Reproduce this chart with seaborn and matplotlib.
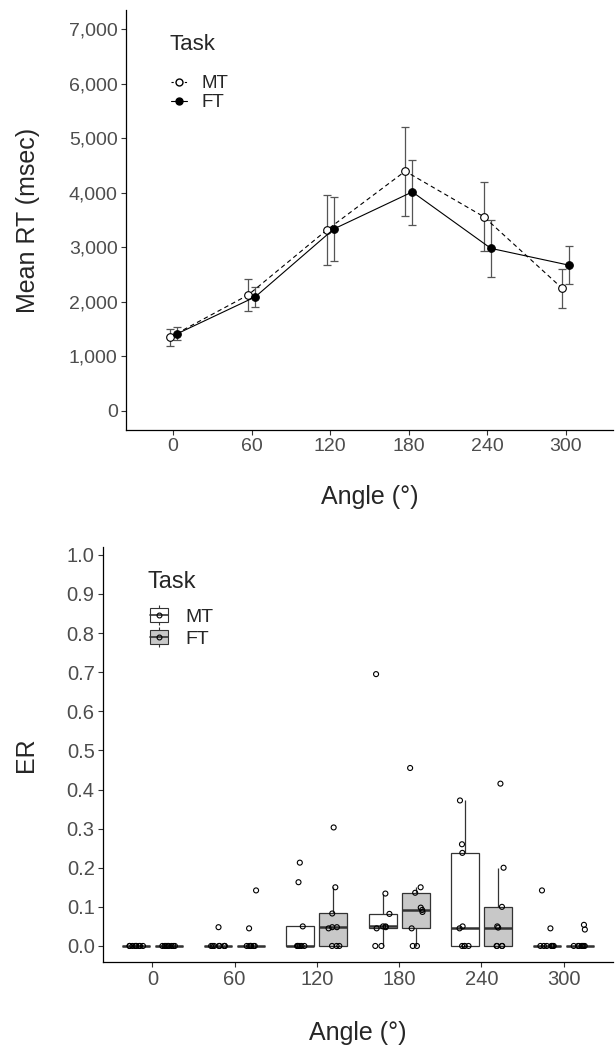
import numpy as np
import pandas as pd
import matplotlib
matplotlib.use('Agg')
import matplotlib.pyplot as plt
import seaborn as sns
from matplotlib.patches import Patch
from matplotlib.lines import Line2D
from matplotlib.legend_handler import HandlerTuple
from matplotlib.ticker import StrMethodFormatter

angles = ['0', '60', '120', '180', '240', '300']
tasks = ['MT', 'FT']

# mean RT (msec) with interval bounds, per angle
rt_mt = [1350, 2125, 3315, 4395, 3560, 2245]
rt_mt_lo = [1185, 1825, 2670, 3580, 2930, 1880]
rt_mt_hi = [1505, 2425, 3960, 5210, 4205, 2600]
rt_ft = [1410, 2090, 3335, 4015, 2980, 2670]
rt_ft_lo = [1295, 1900, 2745, 3405, 2450, 2330]
rt_ft_hi = [1540, 2280, 3915, 4595, 3505, 3015]

# error rate per participant, one list per angle
er_mt = [
    [0, 0, 0, 0, 0, 0, 0, 0, 0],
    [0, 0, 0, 0, 0, 0, 0, 0, 0.048],
    [0, 0, 0, 0, 0, 0, 0.05, 0.163, 0.213],
    [0, 0, 0.045, 0.048, 0.05, 0.05, 0.082, 0.134, 0.695],
    [0, 0, 0, 0, 0.045, 0.05, 0.238, 0.26, 0.372],
    [0, 0, 0, 0, 0, 0, 0, 0.045, 0.142],
]
er_ft = [
    [0, 0, 0, 0, 0, 0, 0, 0, 0],
    [0, 0, 0, 0, 0, 0, 0, 0.045, 0.142],
    [0, 0, 0, 0.045, 0.048, 0.048, 0.083, 0.15, 0.303],
    [0, 0, 0.045, 0.087, 0.092, 0.098, 0.136, 0.15, 0.455],
    [0, 0, 0, 0, 0.047, 0.05, 0.1, 0.2, 0.415],
    [0, 0, 0, 0, 0, 0, 0, 0.042, 0.054],
]

rows = []
for task, groups in zip(tasks, [er_mt, er_ft]):
    for ang, vals in zip(angles, groups):
        for v in vals:
            rows.append({'Angle': ang, 'Task': task, 'ER': v})
er_df = pd.DataFrame(rows)

sns.set_style('ticks')
plt.rcParams['font.family'] = ['Liberation Sans', 'DejaVu Sans']
np.random.seed(7)

W, H = 615, 1046
fig = plt.figure(figsize=(W / 100, H / 100), dpi=100)

tick_grey = '#4d4d4d'
line_grey = '#333333'


def style_axes(ax, fs):
    sns.despine(ax=ax)
    for s in ['left', 'bottom']:
        ax.spines[s].set_color('black')
        ax.spines[s].set_linewidth(0.9)
    ax.tick_params(axis='both', length=3.5, width=0.8, color=line_grey,
                   labelcolor=tick_grey, labelsize=fs, pad=2.5)


# ---------- top panel: mean RT ----------
ax1 = fig.add_axes([126 / W, 1 - 430 / H, 487 / W, 420 / H])
pos = np.arange(len(angles))
off = 0.045
mt = np.array(rt_mt); ft = np.array(rt_ft)
ax1.errorbar(pos - off, mt, yerr=[mt - np.array(rt_mt_lo), np.array(rt_mt_hi) - mt],
             fmt='none', ecolor='#555555', elinewidth=0.9, capsize=3, capthick=0.9, zorder=1)
ax1.errorbar(pos + off, ft, yerr=[ft - np.array(rt_ft_lo), np.array(rt_ft_hi) - ft],
             fmt='none', ecolor='#555555', elinewidth=0.9, capsize=3, capthick=0.9, zorder=1)
sns.lineplot(x=pos - off, y=mt, ax=ax1, color='black', linestyle=(0, (4, 3)), linewidth=0.8,
             marker='o', markersize=5.5, markerfacecolor='white', markeredgecolor='black',
             markeredgewidth=0.8, zorder=2)
sns.lineplot(x=pos + off, y=ft, ax=ax1, color='black', linewidth=0.8,
             marker='o', markersize=5.5, markerfacecolor='black', markeredgecolor='black',
             zorder=3)
ax1.set_xlim(-0.6, 5.6)
ax1.set_ylim(-350, 7350)
ax1.set_xticks(pos)
ax1.set_xticklabels(angles)
ax1.set_yticks(range(0, 7001, 1000))
ax1.yaxis.set_major_formatter(StrMethodFormatter('{x:,.0f}'))
style_axes(ax1, 14)
ax1.set_xlabel('Angle (°)', fontsize=18)
ax1.set_ylabel('Mean RT (msec)', fontsize=18)
ax1.xaxis.set_label_coords(0.5, -0.13)
ax1.yaxis.set_label_coords(-0.176, 0.5)

fig.text(169 / W, 1 - 45 / H, 'Task', fontsize=16, va='center', ha='left')
h_mt = Line2D([], [], color='black', linestyle=(0, (2, 2)), linewidth=0.8, marker='o',
              markersize=5, markerfacecolor='white', markeredgecolor='black')
h_ft = Line2D([], [], color='black', linewidth=0.8, marker='o', markersize=5,
              markerfacecolor='black', markeredgecolor='black')
fig.legend([h_mt, h_ft], tasks, loc='upper left', bbox_to_anchor=(171 / W, 1 - 75 / H),
           frameon=False, fontsize=13.5, borderpad=0, borderaxespad=0, labelspacing=0.1,
           handlelength=0.85, handletextpad=0.75)

# ---------- bottom panel: ER ----------
ax2 = fig.add_axes([103 / W, 1 - 962 / H, 510 / W, 415 / H])
box_cols = {'MT': 'white', 'FT': '#c8c8c8'}
sns.boxplot(data=er_df, x='Angle', y='ER', hue='Task', order=angles, hue_order=tasks,
            palette=box_cols, linecolor=line_grey, linewidth=0.9, width=0.8, gap=0.15,
            showfliers=False, showcaps=False, medianprops={'linewidth': 1.8},
            legend=False, ax=ax2)
n_before = len(ax2.collections)
sns.stripplot(data=er_df, x='Angle', y='ER', hue='Task', order=angles, hue_order=tasks,
              dodge=True, jitter=0.18, size=3.6, palette=box_cols, legend=False, ax=ax2)
for coll in ax2.collections[n_before:]:
    coll.set_facecolor('none')
    coll.set_edgecolor('black')
    coll.set_linewidth(0.8)
    coll.set_zorder(4)
ax2.set_xlim(-0.6, 5.6)
ax2.set_ylim(-0.041, 1.02)
ax2.set_yticks(np.arange(0, 1.01, 0.1))
ax2.yaxis.set_major_formatter(StrMethodFormatter('{x:.1f}'))
style_axes(ax2, 14.5)
ax2.set_xlabel('Angle (°)', fontsize=18)
ax2.set_ylabel('ER', fontsize=18)
ax2.xaxis.set_label_coords(0.5, -0.142)
ax2.yaxis.set_label_coords(-0.128, 0.5)

fig.text(147 / W, 1 - 582 / H, 'Task', fontsize=17, va='center', ha='left')
handles = []
for t in tasks:
    whisk = Line2D([], [], linestyle='none', marker='|', markersize=14, markeredgewidth=0.8,
                   color=line_grey)
    box = Patch(facecolor=box_cols[t], edgecolor=line_grey, linewidth=0.8)
    med = Line2D([], [], color=line_grey, linewidth=1.2)
    pt = Line2D([], [], linestyle='none', marker='o', markersize=3.5, markerfacecolor='none',
                markeredgecolor='black', markeredgewidth=0.8)
    handles.append((whisk, box, med, pt))
fig.legend(handles, tasks, loc='upper left', bbox_to_anchor=(150 / W, 1 - 608 / H),
           frameon=False, fontsize=14, borderpad=0, borderaxespad=0, labelspacing=0.25,
           handlelength=0.95, handletextpad=0.85,
           handler_map={tuple: HandlerTuple(ndivide=1)})

fig.savefig('out.png', dpi=100)
